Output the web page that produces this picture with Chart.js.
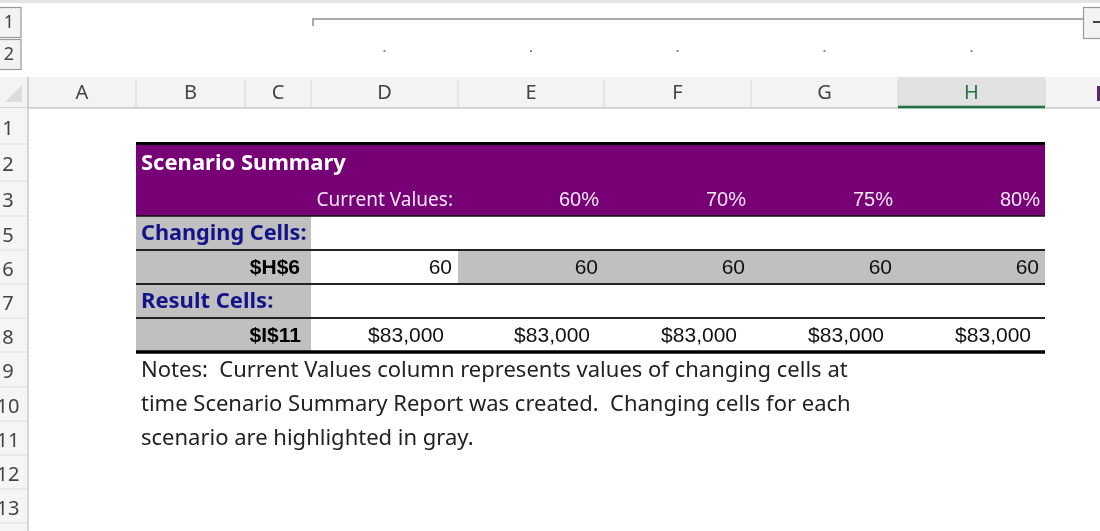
<!DOCTYPE html>
<html>
<head>
<meta charset="utf-8">
<script src="https://cdn.jsdelivr.net/npm/chart.js@4"></script>
<style>
html,body{margin:0;padding:0;background:#fff;}
#wrap{position:relative;width:1100px;height:531px;}
</style>
</head>
<body>
<div id="wrap"><canvas id="c"></canvas></div>
<script>
// ---- data ----
const columnLabels = ['A','B','C','D','E','F','G','H','I'];
const rowLabels = ['1','2','3','5','6','7','8','9','10','11','12','13'];
const outlineLevels = ['1','2'];
const reportTitle = 'Scenario Summary';
const scenarioNames = ['Current Values:','60%','70%','75%','80%'];
const changingLabel = 'Changing Cells:';
const changingCellRef = '$H$6';
const changingValues = [60,60,60,60,60];
const resultLabel = 'Result Cells:';
const resultCellRef = '$I$11';
const resultValues = [83000,83000,83000,83000,83000];
const notesLines = [
  'Notes:  Current Values column represents values of changing cells at',
  'time Scenario Summary Report was created.  Changing cells for each',
  'scenario are highlighted in gray.'
];

// ---- layout (scale units) ----
const colEdges = [28,136,245,311,458,604,751,898,1045,1160];
const rowEdges = [108,144,181,216,250,284,318,352,387,421,455,489,523,560];

const fmtMoney = v => '$' + v.toLocaleString('en-US');

const sheetPlugin = {
  id:'sheet',
  beforeDatasetsDraw(chart){
    const ctx = chart.ctx;
    const X = v => chart.scales.x.getPixelForValue(v);
    const Y = v => chart.scales.y.getPixelForValue(v);
    const rect = (x0,y0,x1,y1,c)=>{ctx.fillStyle=c;ctx.fillRect(X(x0),Y(y0),X(x1)-X(x0),Y(y1)-Y(y0));};
    const hline = (x0,x1,y,w,c)=>{ctx.strokeStyle=c;ctx.lineWidth=w;ctx.beginPath();ctx.moveTo(X(x0),Y(y));ctx.lineTo(X(x1),Y(y));ctx.stroke();};
    const vline = (x,y0,y1,w,c)=>{ctx.strokeStyle=c;ctx.lineWidth=w;ctx.beginPath();ctx.moveTo(X(x),Y(y0));ctx.lineTo(X(x),Y(y1));ctx.stroke();};
    const text = (s,x,y,font,color,align)=>{ctx.font=font;ctx.fillStyle=color;ctx.textAlign=align||'left';ctx.textBaseline='middle';ctx.fillText(s,X(x),Y(y));};
    const colMid = i => (colEdges[i]+colEdges[i+1])/2;
    const rowMid = i => (rowEdges[i]+rowEdges[i+1])/2;
    ctx.save();
    // background
    rect(0,0,1100,531,'#ffffff');
    rect(0,0,1100,3,'#e4e4e4');
    // outline buttons
    outlineLevels.forEach((l,i)=>{
      const y0 = 7 + i*32;
      rect(0,y0,21,y0+30,'#f3f3f3');
      ctx.strokeStyle='#9a9a9a';ctx.lineWidth=1.2;ctx.strokeRect(X(-1),Y(y0)+0.5,X(21)-X(-1),Y(y0+30)-Y(y0));
      text(l,9,y0+16,'18px "Noto Sans"','#444','center');
    });
    // outline bracket
    hline(312,1086,19,2,'#a8a8a8');
    vline(313,18,26,2,'#a8a8a8');
    rect(1083,7,1100,38,'#f3f3f3');
    ctx.strokeStyle='#9a9a9a';ctx.lineWidth=1.2;ctx.strokeRect(X(1083)+0.5,Y(7)+0.5,X(1102)-X(1083),Y(38)-Y(7));
    hline(1093,1100,22,2,'#444');
    for(let i=3;i<=7;i++){ rect(colMid(i)-1,50,colMid(i)+1,52,'#8a8a8a'); }
    // column header band
    rect(0,77,1100,108,'#f3f3f3');
    rect(898,77,1045,108,'#e1e1e1');
    for(let i=0;i<colEdges.length;i++){ vline(colEdges[i],80,108,1,'#d6d6d6'); }
    hline(0,1100,108,1.5,'#c8c8c8');
    hline(898,1045,107,2.5,'#217346');
    columnLabels.forEach((l,i)=>{
      if(i===8){ rect(1097,86,1100,101,'#5a2a6a'); return; }
      text(l,colMid(i),93,'20px "Noto Sans"', i===7?'#217346':'#444','center');
    });
    // corner triangle
    ctx.fillStyle='#dcdcdc';ctx.beginPath();ctx.moveTo(X(22),Y(85));ctx.lineTo(X(22),Y(102));ctx.lineTo(X(5),Y(102));ctx.closePath();ctx.fill();
    // row header
    rect(0,108,28,531,'#f5f5f5');
    vline(28,77,531,1.5,'#c8c8c8');
    for(let i=1;i<rowEdges.length;i++){ hline(0,28,rowEdges[i],1,'#dedede'); }
    rowLabels.forEach((l,i)=>{ text(l,8,rowMid(i)+3,'20px "Noto Sans"','#444','center'); });

    // ---- table ----
    const xL = colEdges[1], xR = colEdges[8];
    rect(xL,rowEdges[1],xR,rowEdges[3],'#770077');
    rect(xL,rowEdges[3],colEdges[3],rowEdges[7],'#c0c0c0');
    changingValues.forEach((v,i)=>{ if(i>0) rect(colEdges[3+i],rowEdges[4],colEdges[4+i],rowEdges[5],'#c0c0c0'); });
    hline(xL,xR,rowEdges[1]-0.5,3,'#000');
    hline(xL,xR,rowEdges[3],1.5,'#111');
    hline(xL,xR,rowEdges[4],2,'#222');
    hline(xL,xR,rowEdges[5],2,'#222');
    hline(xL,xR,rowEdges[6],2,'#222');
    hline(xL,xR,rowEdges[7],3.5,'#000');

    // texts
    text(reportTitle,xL+5,rowMid(1)+1,'bold 22px "Noto Sans"','#ffffff','left');
    scenarioNames.forEach((s,i)=>{
      const font = i===0 ? '19px "Noto Sans"' : '20px "Liberation Sans"';
      text(s,colEdges[4+i]-5,rowMid(2)+2,font,'#f4e8f4','right');
    });
    text(changingLabel,xL+5,rowMid(3)+1,'bold 21.7px "Noto Sans"','#14148a','left');
    text(changingCellRef,colEdges[3]-11,rowMid(4)+1,'bold 21px "Liberation Sans"','#000','right');
    changingValues.forEach((v,i)=>{ text(String(v),colEdges[4+i]-6,rowMid(4)+1,'21px "Liberation Sans"','#111','right'); });
    text(resultLabel,xL+5,rowMid(5)+1,'bold 22px "Noto Sans"','#14148a','left');
    text(resultCellRef,colEdges[3]-10,rowMid(6)+1,'bold 21px "Liberation Sans"','#000','right');
    resultValues.forEach((v,i)=>{ text(fmtMoney(v),colEdges[4+i]-14,rowMid(6)+1,'21px "Liberation Sans"','#111','right'); });
    notesLines.forEach((s,i)=>{ text(s,xL+5,rowMid(7+i)+1,'22px "Noto Sans"','#222','left'); });
    ctx.restore();
  }
};

new Chart(document.getElementById('c'),{
  type:'scatter',
  data:{datasets:[{data:[],pointRadius:0}]},
  options:{
    responsive:true,maintainAspectRatio:false,animation:false,
    layout:{padding:0},
    plugins:{legend:{display:false},tooltip:{enabled:false}},
    scales:{
      x:{type:'linear',min:0,max:1100,display:false},
      y:{type:'linear',min:0,max:531,reverse:true,display:false}
    }
  },
  plugins:[sheetPlugin]
});
</script>
</body>
</html>
